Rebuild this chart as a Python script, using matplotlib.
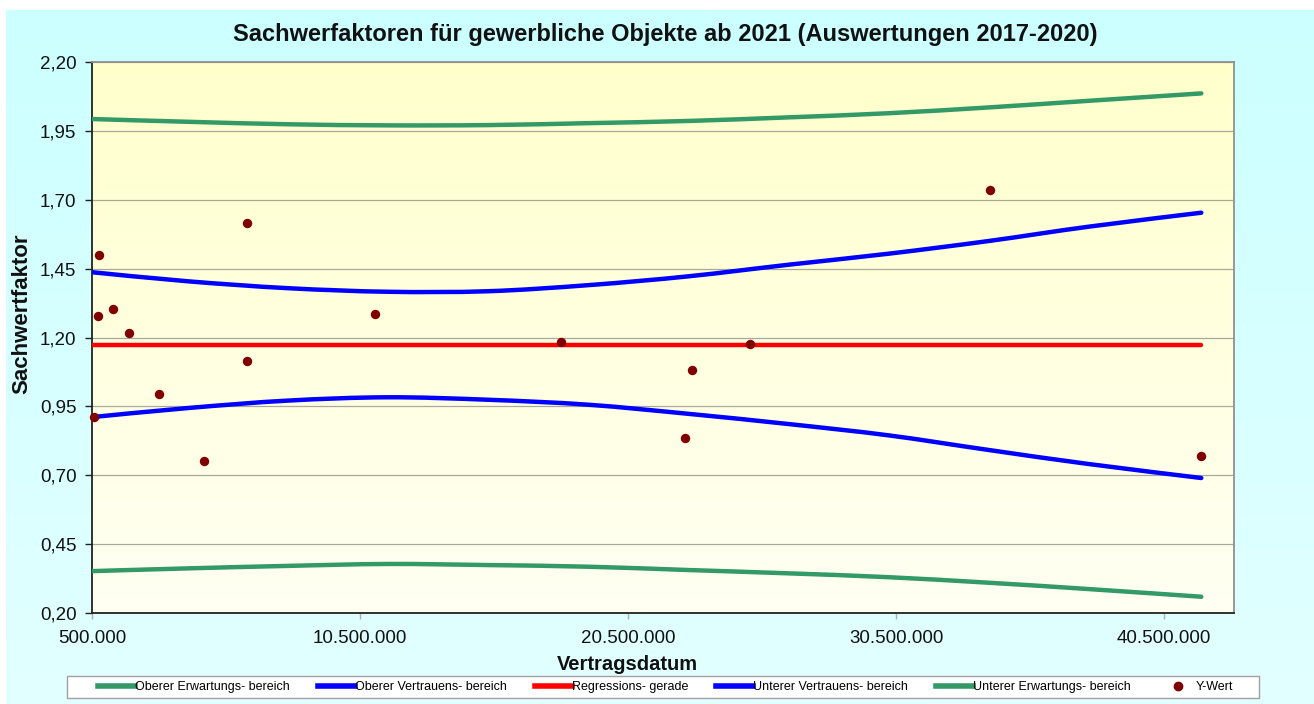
import numpy as np
import matplotlib
matplotlib.use("Agg")
import matplotlib.pyplot as plt
from matplotlib.ticker import FixedLocator, FuncFormatter
from matplotlib.lines import Line2D
from matplotlib.path import Path
from matplotlib.patches import PathPatch, Rectangle

plt.rcParams['font.family'] = ['Liberation Sans', 'DejaVu Sans']

title = "Sachwerfaktoren für gewerbliche Objekte ab 2021 (Auswertungen 2017-2020)"
x_label = "Vertragsdatum"
y_label = "Sachwertfaktor"

# Observed sales (Vertragsdatum, Sachwertfaktor)
sale_date = [586000, 772000, 713000, 1284000, 1892000, 3011000, 4668000, 6284000,
             6295000, 11050000, 18000000, 22630000, 22890000, 25050000, 33990000, 41880000]
sale_factor = [0.912, 1.501, 1.278, 1.304, 1.216, 0.995, 0.752, 1.616,
               1.116, 1.287, 1.184, 0.834, 1.081, 1.178, 1.737, 0.770]

# Regression line and bands
reg_x = [500000, 41880000]
reg_y = [1.172, 1.172]

band_x = [500000, 4080000, 7810000, 11540000, 15280000, 19010000,
          22740000, 26470000, 30200000, 33930000, 37660000, 41880000]
pred_upper = [1.993, 1.983, 1.974, 1.970, 1.971, 1.978, 1.986, 1.999, 2.014, 2.035, 2.059, 2.086]
conf_upper = [1.437, 1.404, 1.379, 1.366, 1.368, 1.390, 1.422, 1.464, 1.504, 1.550, 1.602, 1.653]
conf_lower = [0.911, 0.944, 0.971, 0.983, 0.974, 0.956, 0.923, 0.886, 0.845, 0.792, 0.741, 0.690]
pred_lower = [0.352, 0.362, 0.371, 0.378, 0.374, 0.368, 0.356, 0.344, 0.330, 0.310, 0.287, 0.259]

x_ticks = [500000, 10500000, 20500000, 30500000, 40500000]
y_ticks = [0.20, 0.45, 0.70, 0.95, 1.20, 1.45, 1.70, 1.95, 2.20]

legend_labels = ["Oberer Erwartungs- bereich", "Oberer Vertrauens- bereich",
                 "Regressions- gerade", "Unterer Vertrauens- bereich",
                 "Unterer Erwartungs- bereich", "Y-Wert"]

GREEN = '#339966'
BLUE = '#0000FF'
RED = '#FF0000'
DOT = '#800000'

W, H = 1314, 704
fig = plt.figure(figsize=(W / 100, H / 100), dpi=100)
fig.patch.set_facecolor('white')


def vgradient(top_rgb, bottom_rgb, n=256):
    t = np.linspace(0, 1, n)[:, None, None]
    top = np.array(top_rgb, float)[None, None, :] / 255
    bot = np.array(bottom_rgb, float)[None, None, :] / 255
    return top + (bot - top) * t


def smooth_line(ax, xs, ys, **kw):
    """Draw a smoothed line (Catmull-Rom style Bezier) through the given points."""
    p = np.column_stack([xs, ys]).astype(float)
    ext = np.vstack([p[0], p, p[-1]])
    verts = [tuple(p[0])]
    codes = [Path.MOVETO]
    for i in range(len(p) - 1):
        p0, p1, p2, p3 = ext[i], ext[i + 1], ext[i + 2], ext[i + 3]
        c1 = p1 + (p2 - p0) / 6.0
        c2 = p2 - (p3 - p1) / 6.0
        verts += [tuple(c1), tuple(c2), tuple(p2)]
        codes += [Path.CURVE4] * 3
    patch = PathPatch(Path(verts, codes), fill=False, capstyle='round',
                      joinstyle='round', **kw)
    ax.add_patch(patch)
    return patch


# chart area background
bg = fig.add_axes([6 / W, 0, 1 - 6 / W, (H - 10) / H], zorder=-10)
bg.imshow(vgradient((204, 255, 255), (226, 255, 255)), aspect='auto', extent=[0, 1, 0, 1])
bg.axis('off')

# plot area
left, right, top, bottom = 92, 1234, 62, 613
rect = [left / W, 1 - bottom / H, (right - left) / W, (bottom - top) / H]
pbg = fig.add_axes(rect, zorder=-5)
pbg.imshow(vgradient((255, 255, 204), (255, 255, 243)), aspect='auto', extent=[0, 1, 0, 1])
pbg.axis('off')

ax = fig.add_axes(rect)
ax.set_facecolor('none')

lw = 3.2
smooth_line(ax, band_x, pred_upper, edgecolor=GREEN, lw=lw, zorder=3)
smooth_line(ax, band_x, conf_upper, edgecolor=BLUE, lw=lw, zorder=3)
ax.plot(reg_x, reg_y, color=RED, lw=lw, solid_capstyle='round', zorder=3)
smooth_line(ax, band_x, conf_lower, edgecolor=BLUE, lw=lw, zorder=3)
smooth_line(ax, band_x, pred_lower, edgecolor=GREEN, lw=lw, zorder=3)
ax.scatter(sale_date, sale_factor, s=46, color=DOT, zorder=5, linewidths=0, clip_on=False)

ax.set_xlim(500000, 43100000)
ax.set_ylim(0.20, 2.20)

ax.xaxis.set_major_locator(FixedLocator(x_ticks))
ax.yaxis.set_major_locator(FixedLocator(y_ticks))
ax.xaxis.set_major_formatter(FuncFormatter(lambda v, p: f"{int(round(v)):,}".replace(",", ".")))
ax.yaxis.set_major_formatter(FuncFormatter(lambda v, p: f"{v:.2f}".replace(".", ",")))

ax.grid(axis='y', color='#A8A89A', lw=0.9)
ax.set_axisbelow(True)

ax.tick_params(axis='y', direction='out', length=4.7, width=1.0, color='#222222',
               pad=6.5, labelsize=13.5, labelcolor='#111111')
ax.tick_params(axis='x', direction='out', length=4.5, width=1.0, color='#B0B0B0',
               pad=8, labelsize=13.5, labelcolor='#111111')

for side in ('left', 'bottom'):
    ax.spines[side].set_color('#222222')
    ax.spines[side].set_linewidth(1.3)
for side in ('top', 'right'):
    ax.spines[side].set_color('#909090')
    ax.spines[side].set_linewidth(1.3)

fig.text(665 / W, 1 - 35 / H, title, ha='center', va='center',
         fontsize=17, fontweight='bold', color='#111111')
fig.text(627 / W, 1 - 665 / H, x_label, ha='center', va='center',
         fontsize=14.5, fontweight='bold', color='#111111')
fig.text(22 / W, 1 - 314 / H, y_label, ha='center', va='center', rotation=90,
         fontsize=16, fontweight='bold', color='#111111')

# legend frame
fig.patches.append(Rectangle((67 / W, 1 - 698 / H), (1259 - 67) / W, 22 / H,
                             transform=fig.transFigure, facecolor='white',
                             edgecolor='#A0A0A0', lw=1.0, zorder=1))

handles = [
    Line2D([], [], color=GREEN, lw=4),
    Line2D([], [], color=BLUE, lw=4),
    Line2D([], [], color=RED, lw=4),
    Line2D([], [], color=BLUE, lw=4),
    Line2D([], [], color=GREEN, lw=4),
    Line2D([], [], ls='none', marker='o', markersize=6, color=DOT),
]
leg = fig.legend(handles, legend_labels, loc='center', bbox_to_anchor=(666 / W, 1 - 687 / H),
                 ncol=6, fontsize=9, handlelength=2.96, handletextpad=0.0,
                 columnspacing=2.24, frameon=False, borderpad=0.35,
                 borderaxespad=0, numpoints=1)
leg.set_zorder(2)

fig.savefig('out.png', dpi=100)
